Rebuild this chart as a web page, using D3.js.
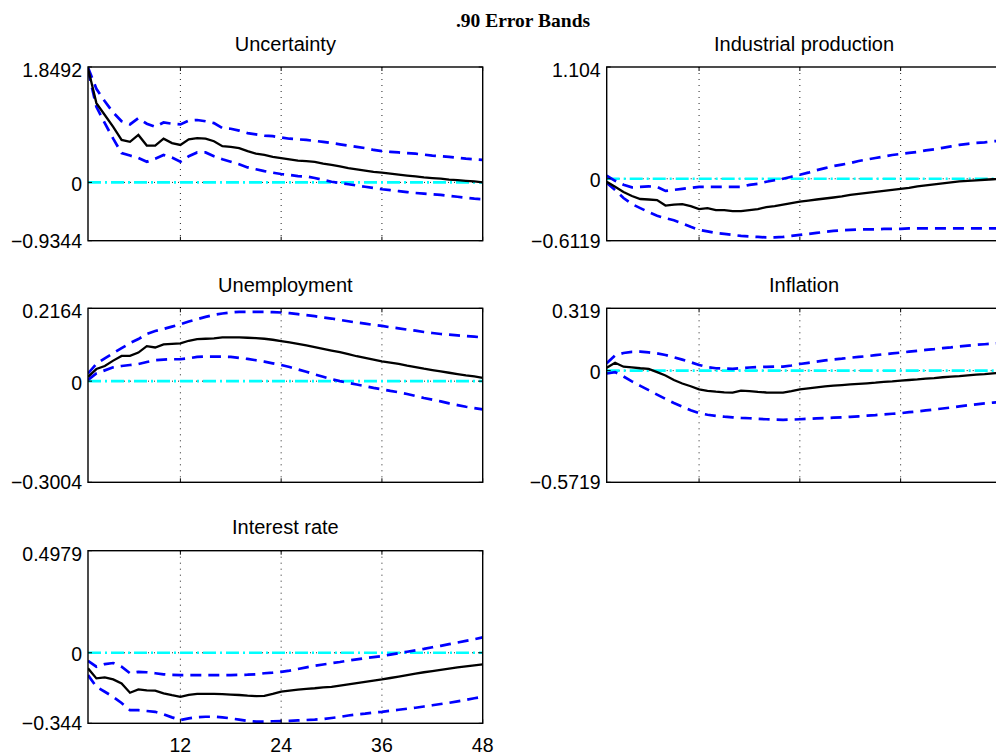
<!DOCTYPE html>
<html>
<head>
<meta charset="utf-8">
<script src="https://cdn.jsdelivr.net/npm/d3@7"></script>
<style>
  body { margin: 0; background: #fff; }
  svg { display: block; }
</style>
</head>
<body>
<svg id="canvas" width="996" height="756"></svg>
<script>
var svg = d3.select("#canvas");

// horizon (months) and x tick labels
var months = d3.range(1, 49);
var xTicks = [12, 24, 36, 48];

// Uncertainty
var uncMid = [1.83,1.27,1.08,0.89,0.68,0.65,0.76,0.59,0.59,0.70,0.63,0.60,0.69,0.71,0.70,0.66,0.58,0.57,0.55,0.50,0.46,0.44,0.41,0.39,0.37,0.35,0.34,0.33,0.30,0.28,0.255,0.23,0.21,0.19,0.17,0.155,0.14,0.125,0.11,0.095,0.08,0.07,0.06,0.045,0.035,0.025,0.015,0.0];
var uncHi = [1.84,1.50,1.30,1.12,0.98,0.93,1.03,0.94,0.89,0.96,0.94,0.93,0.99,1.00,0.98,0.95,0.87,0.86,0.83,0.79,0.77,0.75,0.74,0.72,0.70,0.69,0.68,0.665,0.65,0.63,0.61,0.59,0.57,0.55,0.52,0.50,0.49,0.48,0.47,0.46,0.445,0.43,0.42,0.41,0.395,0.38,0.37,0.36];
var uncLo = [1.80,1.21,0.95,0.70,0.47,0.43,0.39,0.33,0.38,0.44,0.40,0.33,0.42,0.48,0.48,0.42,0.37,0.33,0.29,0.24,0.21,0.18,0.155,0.135,0.12,0.10,0.095,0.07,0.04,0.01,-0.01,-0.03,-0.05,-0.07,-0.09,-0.11,-0.125,-0.14,-0.155,-0.17,-0.18,-0.19,-0.20,-0.215,-0.23,-0.245,-0.26,-0.27];

// Industrial production
var ipMid = [-0.03,-0.08,-0.13,-0.17,-0.20,-0.205,-0.21,-0.265,-0.255,-0.25,-0.27,-0.30,-0.29,-0.31,-0.31,-0.32,-0.32,-0.31,-0.30,-0.28,-0.27,-0.255,-0.24,-0.225,-0.215,-0.205,-0.195,-0.185,-0.175,-0.16,-0.15,-0.14,-0.13,-0.12,-0.11,-0.10,-0.09,-0.075,-0.065,-0.055,-0.045,-0.035,-0.025,-0.02,-0.015,-0.01,-0.005,0.0];
var ipHi = [0.03,-0.02,-0.06,-0.085,-0.08,-0.075,-0.08,-0.12,-0.11,-0.10,-0.09,-0.08,-0.08,-0.08,-0.08,-0.08,-0.08,-0.06,-0.05,-0.03,-0.015,0.0,0.02,0.04,0.06,0.085,0.105,0.125,0.14,0.155,0.175,0.19,0.205,0.22,0.235,0.245,0.255,0.265,0.28,0.29,0.305,0.32,0.335,0.345,0.355,0.36,0.37,0.375];
var ipLo = [-0.04,-0.11,-0.19,-0.25,-0.29,-0.33,-0.365,-0.39,-0.41,-0.44,-0.475,-0.505,-0.52,-0.535,-0.545,-0.555,-0.565,-0.57,-0.575,-0.58,-0.58,-0.575,-0.565,-0.555,-0.545,-0.535,-0.525,-0.515,-0.51,-0.505,-0.50,-0.50,-0.50,-0.495,-0.495,-0.495,-0.49,-0.49,-0.49,-0.49,-0.49,-0.49,-0.49,-0.49,-0.49,-0.49,-0.49,-0.49];

// Unemployment
var unMid = [0.013,0.036,0.045,0.061,0.075,0.075,0.085,0.104,0.10,0.109,0.111,0.112,0.12,0.125,0.126,0.127,0.130,0.130,0.130,0.129,0.128,0.126,0.123,0.119,0.115,0.111,0.106,0.101,0.096,0.091,0.086,0.080,0.074,0.069,0.064,0.059,0.055,0.051,0.046,0.042,0.037,0.033,0.029,0.025,0.021,0.017,0.014,0.010];
var unHi = [0.023,0.051,0.068,0.083,0.098,0.113,0.125,0.140,0.149,0.155,0.162,0.169,0.177,0.184,0.191,0.197,0.201,0.204,0.206,0.206,0.206,0.206,0.205,0.204,0.202,0.199,0.196,0.193,0.189,0.186,0.182,0.178,0.174,0.171,0.167,0.164,0.160,0.157,0.153,0.150,0.146,0.143,0.140,0.138,0.136,0.134,0.132,0.130];
var unLo = [0.004,0.023,0.032,0.041,0.045,0.048,0.051,0.057,0.062,0.064,0.065,0.065,0.068,0.072,0.073,0.073,0.073,0.072,0.069,0.066,0.062,0.058,0.053,0.048,0.042,0.035,0.028,0.020,0.013,0.006,0.0,-0.005,-0.010,-0.015,-0.020,-0.024,-0.029,-0.033,-0.038,-0.044,-0.050,-0.055,-0.060,-0.066,-0.071,-0.076,-0.080,-0.084];

// Inflation
var infMid = [0.015,0.040,0.020,0.017,0.012,0.009,-0.008,-0.025,-0.048,-0.066,-0.08,-0.096,-0.104,-0.108,-0.111,-0.113,-0.103,-0.105,-0.109,-0.112,-0.113,-0.113,-0.105,-0.096,-0.091,-0.086,-0.081,-0.077,-0.074,-0.071,-0.068,-0.065,-0.062,-0.058,-0.055,-0.051,-0.048,-0.045,-0.041,-0.038,-0.034,-0.031,-0.028,-0.024,-0.021,-0.018,-0.014,-0.012];
var infHi = [0.038,0.078,0.090,0.096,0.097,0.093,0.088,0.080,0.068,0.056,0.043,0.029,0.018,0.012,0.010,0.009,0.013,0.016,0.018,0.019,0.020,0.020,0.026,0.034,0.040,0.046,0.052,0.057,0.061,0.066,0.070,0.074,0.079,0.084,0.088,0.092,0.097,0.101,0.106,0.110,0.115,0.119,0.124,0.128,0.132,0.135,0.138,0.141];
var infLo = [-0.015,-0.008,-0.03,-0.055,-0.078,-0.100,-0.123,-0.145,-0.166,-0.184,-0.203,-0.218,-0.226,-0.232,-0.236,-0.239,-0.242,-0.244,-0.247,-0.249,-0.251,-0.252,-0.251,-0.249,-0.247,-0.245,-0.243,-0.241,-0.239,-0.237,-0.234,-0.231,-0.228,-0.224,-0.221,-0.218,-0.213,-0.209,-0.204,-0.199,-0.194,-0.189,-0.183,-0.178,-0.173,-0.168,-0.164,-0.161];

// Interest rate
var irMid = [-0.076,-0.125,-0.12,-0.13,-0.15,-0.195,-0.179,-0.183,-0.185,-0.198,-0.207,-0.215,-0.205,-0.20,-0.20,-0.20,-0.202,-0.204,-0.206,-0.209,-0.211,-0.21,-0.201,-0.19,-0.185,-0.18,-0.176,-0.173,-0.169,-0.166,-0.16,-0.154,-0.148,-0.142,-0.136,-0.13,-0.123,-0.116,-0.109,-0.102,-0.095,-0.089,-0.083,-0.077,-0.071,-0.066,-0.061,-0.057];
var irHi = [-0.039,-0.068,-0.055,-0.05,-0.068,-0.10,-0.093,-0.095,-0.10,-0.105,-0.108,-0.109,-0.109,-0.109,-0.109,-0.109,-0.109,-0.109,-0.108,-0.107,-0.105,-0.10,-0.097,-0.093,-0.087,-0.079,-0.071,-0.063,-0.057,-0.051,-0.045,-0.038,-0.032,-0.026,-0.021,-0.016,-0.009,-0.002,0.005,0.012,0.019,0.027,0.034,0.042,0.05,0.058,0.066,0.075];
var irLo = [-0.109,-0.166,-0.19,-0.215,-0.245,-0.28,-0.28,-0.284,-0.288,-0.30,-0.315,-0.328,-0.32,-0.314,-0.312,-0.312,-0.315,-0.32,-0.326,-0.332,-0.336,-0.336,-0.334,-0.333,-0.332,-0.33,-0.328,-0.326,-0.323,-0.318,-0.313,-0.306,-0.301,-0.297,-0.292,-0.288,-0.283,-0.278,-0.273,-0.268,-0.262,-0.256,-0.25,-0.244,-0.237,-0.23,-0.222,-0.215];

// y tick labels (axis limits) per panel
var titles = ["Uncertainty", "Industrial production", "Unemployment", "Inflation", "Interest rate"];
var yMaxLabels = ["1.8492", "1.104", "0.2164", "0.319", "0.4979"];
var yMinLabels = ["\u22120.9344", "\u22120.6119", "\u22120.3004", "\u22120.5719", "\u22120.344"];

var panels = [
  {mid: uncMid, hi: uncHi, lo: uncLo, col: 0, row: 0},
  {mid: ipMid,  hi: ipHi,  lo: ipLo,  col: 1, row: 0},
  {mid: unMid,  hi: unHi,  lo: unLo,  col: 0, row: 1},
  {mid: infMid, hi: infHi, lo: infLo, col: 1, row: 1},
  {mid: irMid,  hi: irHi,  lo: irLo,  col: 0, row: 2}
];

var colLeft = [88, 606.7],
    axWidth = 394.7,
    rowTop = [67, 308.3, 550.7],
    axHeight = [173.7, 174, 172.6],
    labelFont = "'Liberation Sans', Arial, Helvetica, sans-serif";

svg.append("text")
  .attr("x", 523)
  .attr("y", 26.5)
  .attr("text-anchor", "middle")
  .style("font-family", "'Liberation Serif', 'Times New Roman', serif")
  .style("font-weight", "bold")
  .style("font-size", "19.5px")
  .text(".90 Error Bands");

var defs = svg.append("defs");

panels.forEach(function(p, i) {
  var x0 = colLeft[p.col], y0 = rowTop[p.row], h = axHeight[p.row];
  var yMax = +yMaxLabels[i].replace("\u2212", "-"),
      yMin = +yMinLabels[i].replace("\u2212", "-");

  var x = d3.scaleLinear().domain([1, 48]).range([0, axWidth]);
  var y = d3.scaleLinear().domain([yMin, yMax]).range([h, 0]);

  var g = svg.append("g").attr("transform", "translate(" + x0 + "," + y0 + ")");

  defs.append("clipPath").attr("id", "clip-" + i)
    .append("rect").attr("width", axWidth).attr("height", h);

  // title
  g.append("text")
    .attr("x", axWidth / 2)
    .attr("y", -16.5)
    .attr("text-anchor", "middle")
    .style("font-family", labelFont)
    .style("font-size", "20px")
    .text(titles[i]);

  // dotted grid
  var grid = g.append("g")
    .attr("stroke", "#222")
    .attr("stroke-width", 1)
    .attr("stroke-dasharray", "1,5");
  grid.selectAll("line.vg").data(xTicks.slice(0, 3)).enter().append("line")
    .attr("x1", function(d) { return x(d); })
    .attr("x2", function(d) { return x(d); })
    .attr("y1", 0).attr("y2", h);
  grid.append("line")
    .attr("x1", 0).attr("x2", axWidth)
    .attr("y1", y(0)).attr("y2", y(0));

  var plot = g.append("g").attr("clip-path", "url(#clip-" + i + ")");

  // zero reference line
  plot.append("line")
    .attr("x1", 0).attr("x2", axWidth)
    .attr("y1", y(0)).attr("y2", y(0))
    .attr("stroke", "#00ffff")
    .attr("stroke-width", 2.6)
    .attr("stroke-dasharray", "13,4,2,4");

  var line = d3.line()
    .x(function(d, k) { return x(months[k]); })
    .y(function(d) { return y(d); });

  [p.hi, p.lo].forEach(function(band) {
    plot.append("path")
      .attr("d", line(band))
      .attr("fill", "none")
      .attr("stroke", "#0000ff")
      .attr("stroke-width", 2.7)
      .attr("stroke-dasharray", "11,7");
  });

  plot.append("path")
    .attr("d", line(p.mid))
    .attr("fill", "none")
    .attr("stroke", "#000")
    .attr("stroke-width", 2.3);

  // tick marks (inside)
  var ticks = g.append("g").attr("stroke", "#000").attr("stroke-width", 1);
  xTicks.forEach(function(t) {
    ticks.append("line").attr("x1", x(t)).attr("x2", x(t)).attr("y1", h).attr("y2", h - 4);
    ticks.append("line").attr("x1", x(t)).attr("x2", x(t)).attr("y1", 0).attr("y2", 4);
  });
  [yMin, 0, yMax].forEach(function(v) {
    ticks.append("line").attr("x1", 0).attr("x2", 4).attr("y1", y(v)).attr("y2", y(v));
    ticks.append("line").attr("x1", axWidth).attr("x2", axWidth - 4).attr("y1", y(v)).attr("y2", y(v));
  });

  // box
  g.append("rect")
    .attr("width", axWidth).attr("height", h)
    .attr("fill", "none")
    .attr("stroke", "#000")
    .attr("stroke-width", 1.4);

  // y tick labels
  var yLab = [[yMax, yMaxLabels[i], 3.3], [0, "0", 1.7], [yMin, yMinLabels[i], 0]];
  g.selectAll("text.ylab").data(yLab).enter().append("text")
    .attr("class", "ylab")
    .attr("x", -6)
    .attr("y", function(d) { return y(d[0]) + d[2]; })
    .attr("dy", "0.35em")
    .attr("text-anchor", "end")
    .style("font-family", labelFont)
    .style("font-size", "19.5px")
    .text(function(d) { return d[1]; });

  // x tick labels only on the bottom panel
  if (p.row === 2) {
    g.selectAll("text.xlab").data(xTicks).enter().append("text")
      .attr("class", "xlab")
      .attr("x", function(d) { return x(d); })
      .attr("y", h + 29)
      .attr("text-anchor", "middle")
      .style("font-family", labelFont)
      .style("font-size", "19.5px")
      .text(function(d) { return d; });
  }
});
</script>
</body>
</html>
